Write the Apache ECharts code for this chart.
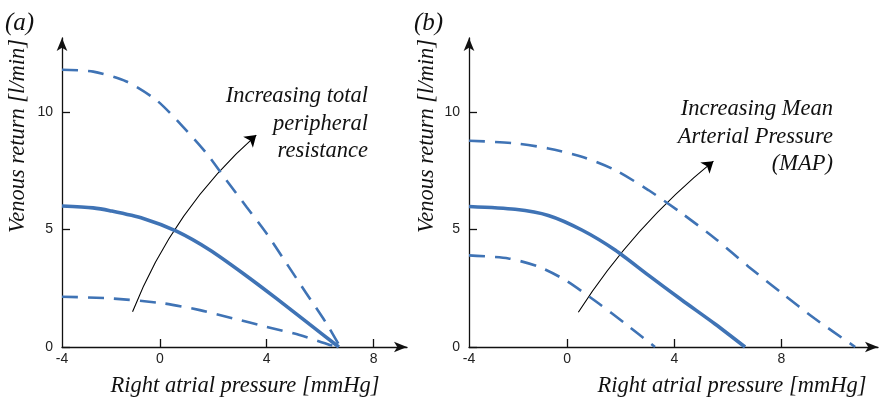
<!DOCTYPE html>
<html>
<head>
<meta charset="utf-8">
<script src="https://cdn.jsdelivr.net/npm/echarts@6/dist/echarts.min.js"></script>
<style>
html,body{margin:0;padding:0;background:#fff;}
#chart{width:889px;height:402px;}
</style>
</head>
<body>
<div id="chart"></div>
<script>
// ---- data ----
var xMin = -3.66;
var xMaxA = 9.25;
var xMaxB = 11.6;
var yMax = 13.15;
var xTickValues = [0, 4, 8];
var xLabelValues = [-3.66, 0, 4, 8];
var xTickLabels = ['-4', '0', '4', '8'];
var yTickValues = [0, 5, 10];

// Panel (a): increasing total peripheral resistance
var aSolid = [[-3.66,6.0],[-2.5,5.92],[-1.87,5.8],[-0.62,5.47],[0.62,4.93],[1.87,4.13],[3.12,3.13],[4.36,2.07],[5.61,0.96],[6.7,0]];
var aUpper = [[-3.66,11.8],[-2.49,11.72],[-1.25,11.3],[-0.12,10.5],[0.87,9.37],[1.75,8.24],[2.49,7.1],[3.24,5.97],[3.99,4.84],[4.74,3.56],[5.48,2.29],[6.23,1.01],[6.75,0]];
var aLower = [[-3.66,2.14],[-1.87,2.07],[0.12,1.86],[1.5,1.57],[2.74,1.22],[3.99,0.86],[5.23,0.51],[6.36,0.09],[6.7,0]];
var aArrow = [[-1.02,1.5],[3.61,9.02]];

// Panel (b): increasing mean arterial pressure
var bSolid = [[-3.66,5.98],[-1.94,5.86],[-0.7,5.6],[0.55,4.98],[1.79,4.13],[3.03,3.06],[4.28,2.0],[5.52,0.98],[6.64,0]];
var bUpper = [[-3.66,8.78],[-1.94,8.67],[-0.7,8.45],[0.55,8.1],[1.79,7.53],[3.03,6.68],[4.28,5.69],[5.52,4.62],[6.77,3.42],[8.01,2.29],[9.25,1.2],[10.75,0]];
var bLower = [[-3.66,3.9],[-2.19,3.77],[-1.07,3.42],[-0.07,2.85],[1.17,1.86],[2.16,1.0],[3.28,0]];
var bArrow = [[0.42,1.48],[5.46,7.91]];

var panelTags = ['(a)', '(b)'];
var xName = 'Right atrial pressure [mmHg]';
var yName = 'Venous return [l/min]';
var noteA = 'Increasing total\nperipheral\nresistance';
var noteB = 'Increasing Mean\nArterial Pressure\n(MAP)';

// ---- styles ----
var blue = '#3f73b5';
var serif = '"Liberation Serif", "DejaVu Serif", serif';
var sans = '"Liberation Sans", Arial, sans-serif';

function xAxisCfg(idx, max) {
  return {
    type: 'value', gridIndex: idx, min: xMin, max: max,
    axisLine: {show: true, onZero: false, lineStyle: {color: '#111', width: 1.3}, symbol: ['none', 'arrow'], symbolSize: [8, 13]},
    axisTick: {show: true, inside: true, length: 8, customValues: xTickValues, lineStyle: {color: '#111', width: 1.3}},
    axisLabel: {customValues: xLabelValues, margin: 5, color: '#222', fontFamily: sans, fontSize: 14,
      formatter: function (v) { var i = xLabelValues.indexOf(v); return i >= 0 ? xTickLabels[i] : ''; }},
    splitLine: {show: false}
  };
}
function yAxisCfg(idx) {
  return {
    type: 'value', gridIndex: idx, min: 0, max: yMax,
    axisLine: {show: true, onZero: false, lineStyle: {color: '#111', width: 1.3}, symbol: ['none', 'arrow'], symbolSize: [8, 13]},
    axisTick: {show: true, inside: true, length: 8, customValues: yTickValues, lineStyle: {color: '#111', width: 1.3}},
    axisLabel: {customValues: yTickValues, margin: 9, color: '#222', fontFamily: sans, fontSize: 14},
    splitLine: {show: false}
  };
}
function curve(idx, data, dashed) {
  return {
    type: 'line', xAxisIndex: idx, yAxisIndex: idx, data: data, smooth: 0.25,
    showSymbol: false, symbol: 'none', silent: true,
    lineStyle: dashed ? {color: blue, width: 2.6, type: [16, 10]} : {color: blue, width: 3.6}
  };
}
function arrow(idx, pts, curv) {
  return {
    type: 'lines', coordinateSystem: 'cartesian2d', xAxisIndex: idx, yAxisIndex: idx, silent: true,
    symbol: ['none', 'arrow'], symbolSize: 11,
    lineStyle: {color: '#000', width: 1.1, curveness: curv, opacity: 1},
    data: [{coords: pts}]
  };
}
function txt(x, y, s, size, align, rot) {
  return {
    type: 'text', x: x, y: y, rotation: rot || 0,
    style: {text: s, font: 'italic ' + size + 'px ' + serif, fill: '#111', align: align || 'left', verticalAlign: 'middle', lineHeight: 27.5}
  };
}

var chart = echarts.init(document.getElementById('chart'), null, {renderer: 'canvas'});
chart.setOption({
  animation: false,
  backgroundColor: '#fff',
  grid: [
    {left: 62, top: 38, width: 345, height: 309},
    {left: 469, top: 38, width: 409, height: 309}
  ],
  xAxis: [xAxisCfg(0, xMaxA), xAxisCfg(1, xMaxB)],
  yAxis: [yAxisCfg(0), yAxisCfg(1)],
  series: [
    curve(0, aUpper, true), curve(0, aLower, true), curve(0, aSolid, false), arrow(0, aArrow, 0.12),
    curve(1, bUpper, true), curve(1, bLower, true), curve(1, bSolid, false), arrow(1, bArrow, 0.08)
  ],
  graphic: [
    txt(5, 23, panelTags[0], 25),
    txt(414, 23, panelTags[1], 25),
    txt(18, 136, yName, 22.5, 'center', Math.PI / 2),
    txt(427, 136, yName, 22.5, 'center', Math.PI / 2),
    txt(245, 386, xName, 22.5, 'center'),
    txt(732, 386, xName, 22.5, 'center'),
    txt(368, 124, noteA, 22.5, 'right'),
    txt(833, 137, noteB, 22.5, 'right')
  ]
});
</script>
</body>
</html>
